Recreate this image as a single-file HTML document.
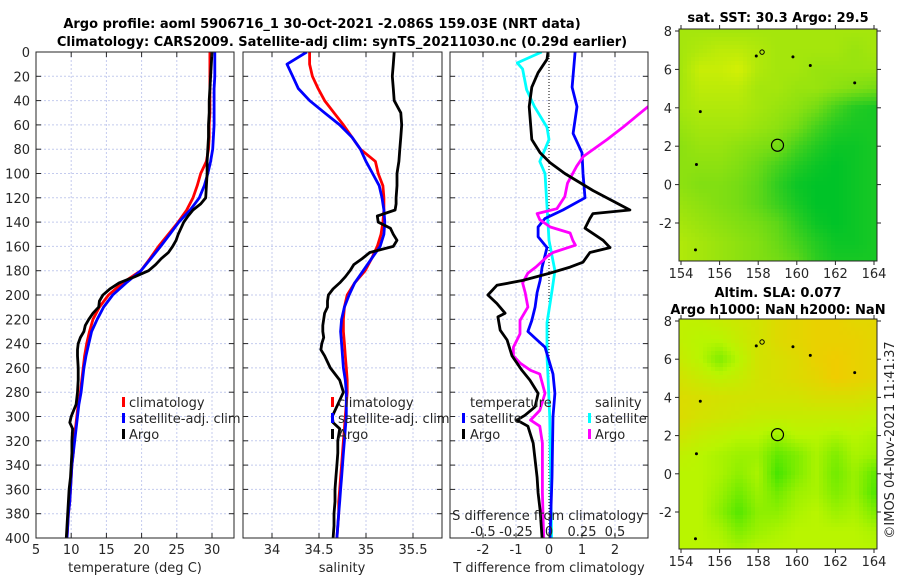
<!DOCTYPE html>
<html><head><meta charset="utf-8">
<style>
html,body{margin:0;padding:0;background:#fff;}
svg{display:block;font-family:"DejaVu Sans","Liberation Sans",sans-serif;}
.tl{font-size:13px;fill:#262626;}
.tt{font-size:13px;font-weight:bold;fill:#000;}
</style></head>
<body>
<svg id="fig" width="900" height="580" viewBox="0 0 900 580">
<defs>
<clipPath id="c1"><rect x="36" y="52" width="198" height="486"/></clipPath>
<clipPath id="c2"><rect x="243" y="52" width="199" height="486"/></clipPath>
<clipPath id="c3"><rect x="450" y="52" width="198" height="486"/></clipPath>
<clipPath id="cm1"><rect x="679" y="29" width="198" height="232"/></clipPath>
<clipPath id="cm2"><rect x="679" y="319" width="198" height="230"/></clipPath>
</defs>
<text class="tt" x="322" y="28" text-anchor="middle">Argo profile: aoml 5906716_1 30-Oct-2021 -2.086S 159.03E (NRT data)</text>
<text class="tt" x="342" y="46" text-anchor="middle">Climatology: CARS2009. Satellite-adj clim: synTS_20211030.nc (0.29d earlier)</text>
<g id="grid"></g>
<g id="lines"></g>
<g id="axes"></g>
<g id="maps"></g>
<g id="legend1">
<rect x="122" y="397" width="3" height="10" fill="#f00"/>
<text class="tl" x="129" y="407">climatology</text>
<rect x="122" y="413" width="3" height="10" fill="#00f"/>
<text class="tl" x="129" y="423">satellite-adj. clim</text>
<rect x="122" y="429" width="3" height="10" fill="#000"/>
<text class="tl" x="129" y="439">Argo</text>
</g>
<g id="legend2">
<rect x="331" y="397" width="3" height="10" fill="#f00"/>
<text class="tl" x="338" y="407">climatology</text>
<rect x="331" y="413" width="3" height="10" fill="#00f"/>
<text class="tl" x="338" y="423">satellite-adj. clim</text>
<rect x="331" y="429" width="3" height="10" fill="#000"/>
<text class="tl" x="338" y="439">Argo</text>
</g>
<g id="legend3">
<text class="tl" x="470" y="407">temperature</text>
<rect x="462" y="413" width="3" height="10" fill="#00f"/>
<text class="tl" x="470" y="423">satellite</text>
<rect x="462" y="429" width="3" height="10" fill="#000"/>
<text class="tl" x="470" y="439">Argo</text>
<text class="tl" x="595" y="407">salinity</text>
<rect x="588" y="413" width="3" height="10" fill="#0ff"/>
<text class="tl" x="595" y="423">satellite</text>
<rect x="588" y="429" width="3" height="10" fill="#f0f"/>
<text class="tl" x="595" y="439">Argo</text>
</g>
<text class="tl" x="548" y="520" text-anchor="middle">S difference from climatology</text>
<text class="tl" x="342" y="572" text-anchor="middle">salinity</text>
<text class="tl" x="135" y="572" text-anchor="middle">temperature (deg C)</text>
<text class="tl" x="549" y="572" text-anchor="middle">T difference from climatology</text>
<text class="tt" x="778" y="22" text-anchor="middle">sat. SST: 30.3 Argo: 29.5</text>
<text class="tt" x="778" y="297" text-anchor="middle">Altim. SLA: 0.077</text>
<text class="tt" x="778" y="314" text-anchor="middle">Argo h1000: NaN h2000: NaN</text>
<text class="tl" transform="translate(894,440) rotate(-90)" text-anchor="middle">©IMOS 04-Nov-2021 11:41:37</text>
</svg>
<script>
const depthClim = [0,10,20,30,40,50,60,70,80,90,100,110,120,130,140,150,160,170,180,190,200,210,220,230,240,250,260,270,280,290,300,310,320,330,340,350,360,370,380,390,400];
const tempClim = [29.7,29.7,29.7,29.7,29.7,29.7,29.6,29.6,29.5,29.2,28.4,27.9,27.3,26.4,25.2,23.8,22.4,21.2,19.9,17.3,15.3,14.0,13.1,12.6,12.2,11.9,11.7,11.5,11.3,11.0,10.8,10.6,10.4,10.3,10.1,10.0,9.9,9.8,9.6,9.5,9.4];
const tempSat = [30.4,30.4,30.4,30.3,30.3,30.3,30.3,30.2,30.1,29.8,29.4,28.9,28.2,26.9,25.3,24.0,22.7,21.3,19.9,17.8,15.9,14.6,13.7,12.9,12.5,12.1,11.8,11.6,11.4,11.1,10.9,10.7,10.5,10.3,10.1,10.0,9.9,9.8,9.6,9.5,9.4];
const salClim = [34.40,34.40,34.43,34.49,34.56,34.66,34.76,34.85,34.94,35.10,35.13,35.18,35.19,35.19,35.18,35.16,35.12,35.06,34.99,34.88,34.80,34.77,34.76,34.76,34.77,34.78,34.79,34.80,34.80,34.79,34.78,34.77,34.76,34.75,34.74,34.73,34.72,34.71,34.71,34.70,34.69];
const salSat = [34.37,34.16,34.22,34.28,34.40,34.56,34.72,34.85,34.94,35.00,35.07,35.14,35.17,35.19,35.20,35.19,35.15,35.06,34.97,34.88,34.82,34.77,34.74,34.73,34.74,34.75,34.76,34.78,34.79,34.79,34.79,34.78,34.77,34.76,34.75,34.74,34.73,34.72,34.71,34.70,34.69];
const depthArgo = [0,10,20,30,40,50,60,70,80,90,100,110,120,125,130,135,140,145,150,155,160,165,170,175,180,185,190,195,200,205,210,215,220,225,230,235,240,245,250,260,270,280,290,300,305,310,320,330,340,350,360,370,380,390,400];
const tempArgo = [30.0,29.9,29.8,29.7,29.6,29.6,29.5,29.5,29.4,29.3,29.3,29.2,29.1,28.4,27.3,26.6,26.0,25.6,25.2,24.9,24.4,23.8,22.8,22.0,21.0,19.0,16.8,15.5,14.5,14.0,13.9,13.1,12.5,12.0,11.8,11.3,11.0,10.9,10.9,11.0,11.0,10.9,10.7,10.0,9.8,10.2,10.1,10.1,10.0,9.9,9.7,9.6,9.5,9.4,9.3];
const salArgo = [35.30,35.29,35.28,35.29,35.30,35.37,35.38,35.37,35.36,35.35,35.33,35.33,35.32,35.32,35.31,35.12,35.13,35.26,35.29,35.33,35.29,35.04,34.96,34.87,34.83,34.78,34.72,34.65,34.60,34.59,34.59,34.56,34.55,34.54,34.54,34.55,34.53,34.52,34.56,34.62,34.72,34.76,34.70,34.64,34.65,34.72,34.70,34.70,34.69,34.68,34.67,34.67,34.66,34.66,34.65];
const depthTArgoDiff = [0,6,17,29,45,72,83,91,100,114,130,133,137,145,155,161,165,173,177,182,188,192,200,207,215,218,229,237,250,262,270,281,292,299,303,308,322,350,363,377,400];
const tArgoDiff = [-0.03,-0.06,-0.33,-0.52,-0.6,-0.52,-0.27,0.03,0.48,1.33,2.45,1.33,1.24,1.09,1.64,1.85,1.24,1.03,0.64,0.03,-0.79,-1.58,-1.85,-1.58,-1.33,-1.55,-1.48,-1.27,-1.12,-0.82,-0.58,-0.33,-0.42,-0.73,-0.97,-0.64,-0.48,-0.36,-0.33,-0.27,-0.21];
const depthTSatDiff = [0,29,45,67,83,100,120,130,137,144,152,161,177,188,198,210,221,230,237,243,265,281,300,350,400];
const tSatDiff = [0.79,0.7,0.85,0.73,1.0,1.03,1.09,0.42,-0.12,-0.33,-0.33,-0.06,-0.21,-0.27,-0.36,-0.42,-0.52,-0.64,-0.36,-0.12,0.12,0.18,0.12,0.09,0.03];
const depthSArgoDiff = [30,45,62,72,86,94,108,119,129,133,138,144,149,155,159,165,168,177,182,190,198,210,221,232,243,250,256,262,265,281,295,303,308,322,363,400];
const sArgoDiff = [0.95,0.75,0.56,0.44,0.26,0.21,0.14,0.12,0.06,-0.09,-0.07,0.01,0.16,0.18,0.2,0.03,-0.01,-0.1,-0.16,-0.2,-0.18,-0.16,-0.22,-0.22,-0.27,-0.27,-0.22,-0.14,-0.07,-0.03,-0.07,-0.14,-0.07,-0.05,-0.05,-0.04];
const depthSSatDiff = [0,9,14,31,45,62,72,80,90,100,127,155,180,195,223,251,265,300,400];
const sSatDiff = [-0.055,-0.24,-0.2,-0.17,-0.11,-0.015,0.0,-0.03,-0.07,-0.03,-0.015,0.0,0.045,0.025,-0.015,-0.015,-0.008,0.005,0.02];
const depthTicks = [0,20,40,60,80,100,120,140,160,180,200,220,240,260,280,300,320,340,360,380,400];
const tempTicks = [5,10,15,20,25,30];
const salTicks = [34,34.5,35,35.5];
const tDiffTicks = [-2,-1,0,1,2];
const sDiffTicks = [-0.5,-0.25,0,0.25,0.5];
const sDiffTickLabels = ['-0.5','-0.25','0','0.25','0.5'];
const lonTicks = [154,156,158,160,162,164];
const latTicks = [-2,0,2,4,6,8];
const sstGrid = [
[.3,.3,.3,.3,.3,.3,.3,.3,.3,.3,.3],
[.3,.25,.2,.2,.25,.3,.3,.3,.3,.35,.3],
[.3,.15,.15,.1,.25,.3,.3,.35,.35,.35,.35],
[.3,.2,.2,.2,.3,.3,.35,.35,.4,.45,.5],
[.3,.25,.25,.25,.3,.35,.4,.5,.7,.85,.9],
[.35,.3,.3,.3,.35,.4,.5,.7,.85,.9,.9],
[.4,.35,.35,.4,.45,.5,.7,.85,.95,.95,.9],
[.4,.4,.4,.45,.55,.7,.85,.95,1,.95,.9],
[.4,.45,.45,.5,.6,.8,.95,1,1,.95,.9],
[.35,.4,.45,.5,.6,.75,.9,1,1,.95,.9],
[.3,.35,.4,.45,.5,.6,.8,.95,1,.95,.9],
[.25,.3,.35,.4,.45,.55,.7,.85,.95,.95,.9],
[.25,.3,.35,.4,.45,.5,.6,.8,.9,.9,.9]];
const slaGrid = [
[.55,.55,.6,.65,.7,.8,.85,.9,.9,.85,.85],
[.55,.5,.5,.6,.7,.8,.85,.9,.9,.9,.85],
[.6,.5,.3,.5,.7,.75,.8,.9,.95,.9,.85],
[.7,.62,.55,.6,.7,.75,.8,.85,.95,.9,.85],
[.78,.75,.72,.7,.7,.7,.7,.75,.75,.75,.7],
[.78,.72,.68,.65,.6,.6,.6,.6,.6,.6,.55],
[.68,.6,.55,.5,.5,.4,.5,.5,.45,.5,.45],
[.55,.5,.45,.4,.4,.2,.3,.45,.3,.45,.4],
[.5,.5,.45,.35,.45,.1,.3,.45,.25,.4,.2],
[.5,.5,.4,.25,.4,.25,.4,.45,.3,.4,.15],
[.5,.5,.35,.15,.35,.35,.45,.5,.4,.45,.3],
[.5,.5,.45,.3,.4,.45,.5,.5,.5,.5,.45],
[.5,.5,.5,.45,.5,.5,.5,.5,.5,.5,.5]];
const markLon = [158.2,157.9,159.8,160.7,163.0,155.0,154.8,154.75];
const markLat = [6.9,6.7,6.65,6.2,5.3,3.8,1.05,-3.4];
const argoLon = [159.0];
const argoLat = [2.05];

const NS='http://www.w3.org/2000/svg';
function mk(tag, attrs, parent){const e=document.createElementNS(NS,tag);for(const k in attrs)e.setAttribute(k,attrs[k]);parent.appendChild(e);return e;}
const yD = d => 52 + d*1.215;
const xTemp = v => 36 + (v-5)*7.04;
const xSal = v => 272 + (v-34)*94;
const xTD = v => 549 + v*33;
const xSD = v => 549 + v*132;
const grid=document.getElementById('grid'), lines=document.getElementById('lines'), axes=document.getElementById('axes');
const panels=[{x0:36,x1:234,xs:xTemp,ticks:tempTicks,clip:'c1',name:'temperature'},{x0:243,x1:442,xs:xSal,ticks:salTicks,clip:'c2',name:'salinity'},{x0:450,x1:648,xs:xTD,ticks:tDiffTicks,clip:'c3',name:'difference'}];
panels.forEach((p,pi)=>{
  depthTicks.forEach(d=>{ if(d>0&&d<400){ const l=mk('line',{x1:p.x0,x2:p.x1,y1:yD(d),y2:yD(d),stroke:'#c4cbee','stroke-width':1,'stroke-dasharray':'2,2'},grid);
     }});
  p.ticks.forEach(t=>{ const x=p.xs(t); if(x>p.x0+1&&x<p.x1-1){ const l=mk('line',{x1:x,x2:x,y1:52,y2:538,stroke:(pi==2&&t==0)?'#000':'#c4cbee','stroke-width':1,'stroke-dasharray':(pi==2&&t==0)?'1,2':'2,2'},grid);
     }
    const tk=mk('line',{x1:x,x2:x,y1:538,y2:533,stroke:'#262626'},axes);  
    const tk2=mk('line',{x1:x,x2:x,y1:52,y2:57,stroke:'#262626'},axes);  
    const tx=mk('text',{x:x,y:554,'text-anchor':'middle',class:'tl'},axes); tx.textContent=String(t);
     });
  depthTicks.forEach(d=>{ const y=yD(d);
    const a=mk('line',{x1:p.x0,x2:p.x0+5,y1:y,y2:y,stroke:'#262626'},axes);  
    const b=mk('line',{x1:p.x1,x2:p.x1-5,y1:y,y2:y,stroke:'#262626'},axes);  
    if(pi==0){const tx=mk('text',{x:30,y:y+5,'text-anchor':'end',class:'tl'},axes); tx.textContent=String(d);
       }});
  const fr=mk('rect',{x:p.x0,y:52,width:p.x1-p.x0,height:486,fill:'none',stroke:'#262626','stroke-width':1},axes);
   
});
sDiffTicks.forEach((t,i)=>{const x=xSD(t);
  const tx=mk('text',{x:x,y:536,'text-anchor':'middle',class:'tl'},axes); tx.textContent=sDiffTickLabels[i];
   });

function drawLine(xs,ds,xf,color,clip,name){
  const pts=xs.map((v,i)=>xf(v).toFixed(1)+','+yD(ds[i]).toFixed(1)).join(' ');
  const pl=mk('polyline',{points:pts,fill:'none',stroke:color,'stroke-width':2.8,'stroke-linejoin':'round','clip-path':'url(#'+clip+')'},lines);
   
}
drawLine(tempClim,depthClim,xTemp,'#f00','c1','temperature-climatology-line');
drawLine(tempSat,depthClim,xTemp,'#00f','c1','temperature-satellite-line');
drawLine(tempArgo,depthArgo,xTemp,'#000','c1','temperature-argo-line');
drawLine(salClim,depthClim,xSal,'#f00','c2','salinity-climatology-line');
drawLine(salSat,depthClim,xSal,'#00f','c2','salinity-satellite-line');
drawLine(salArgo,depthArgo,xSal,'#000','c2','salinity-argo-line');
drawLine(sSatDiff,depthSSatDiff,xSD,'#0ff','c3','s-satellite-diff-line');
drawLine(tSatDiff,depthTSatDiff,xTD,'#00f','c3','t-satellite-diff-line');
drawLine(sArgoDiff,depthSArgoDiff,xSD,'#f0f','c3','s-argo-diff-line');
drawLine(tArgoDiff,depthTArgoDiff,xTD,'#000','c3','t-argo-diff-line');

const maps=document.getElementById('maps');
function lerp(a,b,t){return a+(b-a)*t;}
function colSST(v){const a=[235,245,0],b=[0,195,40];return 'rgb('+a.map((c,i)=>Math.round(lerp(c,b[i],v))).join(',')+')';}
function colSLA(v){const g=[40,225,0],y=[185,245,0],o=[245,200,0];let a,b,t;if(v<.5){a=g;b=y;t=v/.5;}else{a=y;b=o;t=(v-.5)/.5;}return 'rgb('+a.map((c,i)=>Math.round(lerp(c,b[i],t))).join(',')+')';}
function sample(g,lon,lat){let c=Math.max(0,Math.min(9.999,lon-154)),r=Math.max(0,Math.min(11.999,8-lat));const c0=Math.floor(c),r0=Math.floor(r),fc=c-c0,fr=r-r0;
  return lerp(lerp(g[r0][c0],g[r0][c0+1],fc),lerp(g[r0+1][c0],g[r0+1][c0+1],fc),fr);}
function drawMap(cfg){
  const lonX=l=>681+(l-154)*19.3, latY=l=>cfg.y8+(8-l)*cfg.py;
  const g=mk('g',{'clip-path':'url(#'+cfg.clip+')'},maps);  
  const cs=4;
  for(let y=cfg.top;y<cfg.bot;y+=cs){for(let x=679;x<877;x+=cs){
    const lon=154+(x+cs/2-681)/19.3, lat=8-(y+cs/2-cfg.y8)/cfg.py;
    const r=mk('rect',{x:x,y:y,width:cs+0.3,height:cs+0.3,fill:cfg.col(sample(cfg.grid,lon,lat))},g);
     }}
  markLon.forEach((lo,i)=>{const d=mk('circle',{cx:lonX(lo),cy:latY(markLat[i]),r:i==0?2.2:1,fill:i==0?'none':'#000',stroke:'#000','stroke-width':1},maps);
     });
  argoLon.forEach((lo,i)=>{const c=mk('circle',{cx:lonX(lo),cy:latY(argoLat[i]),r:6,fill:'none',stroke:'#000','stroke-width':1.2},maps);
     });
  const fr=mk('rect',{x:679,y:cfg.top,width:198,height:cfg.bot-cfg.top,fill:'none',stroke:'#262626'},maps);
   
  lonTicks.forEach(l=>{const x=lonX(l);
    const t=mk('line',{x1:x,x2:x,y1:cfg.bot,y2:cfg.bot+4,stroke:'#262626'},maps);  
    const t2=mk('line',{x1:x,x2:x,y1:cfg.top,y2:cfg.top-4,stroke:'#262626'},maps);  
    const tx=mk('text',{x:x,y:cfg.bot+17,'text-anchor':'middle',class:'tl'},maps); tx.textContent=String(l);
     });
  latTicks.forEach(l=>{const y=latY(l);
    const t=mk('line',{x1:679,x2:675,y1:y,y2:y,stroke:'#262626'},maps);  
    const t2=mk('line',{x1:877,x2:881,y1:y,y2:y,stroke:'#262626'},maps);  
    const tx=mk('text',{x:672,y:y+5,'text-anchor':'end',class:'tl'},maps); tx.textContent=String(l);
     });
}
drawMap({grid:sstGrid,col:colSST,top:29,bot:261,y8:31,py:19.2,clip:'cm1',name:'sst-map'});
drawMap({grid:slaGrid,col:colSLA,top:319,bot:549,y8:321,py:19.1,clip:'cm2',name:'sla-map'});
</script>
</body></html>
